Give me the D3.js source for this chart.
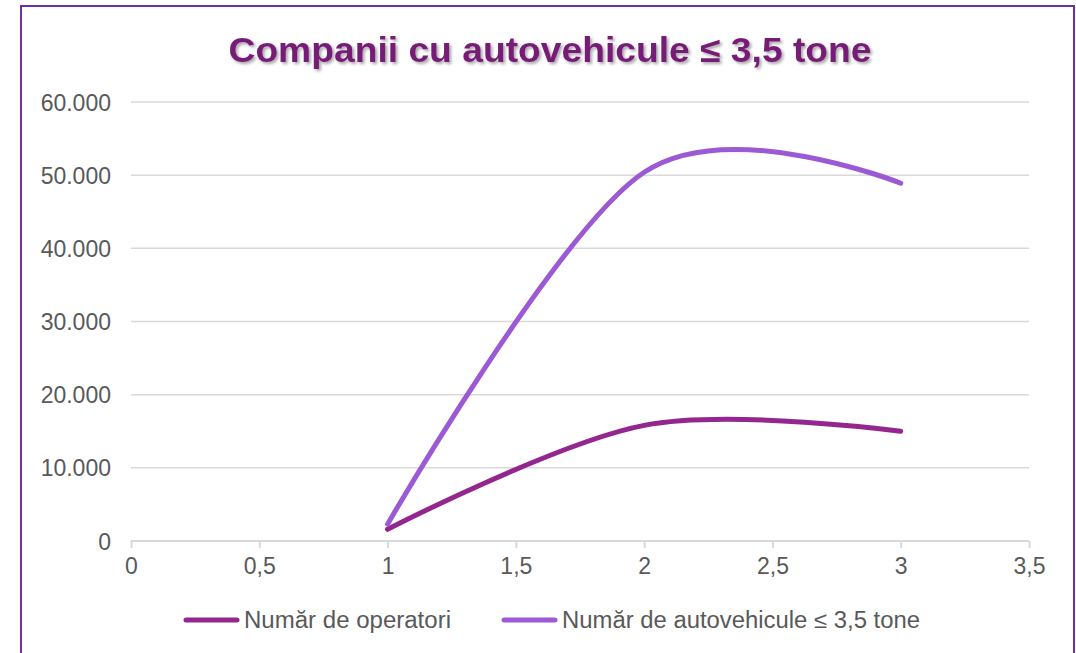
<!DOCTYPE html>
<html>
<head>
<meta charset="utf-8">
<script src="https://cdn.jsdelivr.net/npm/d3@7"></script>
<style>
  body { margin: 0; background: #fff; }
  svg { display: block; font-family: "Liberation Sans", Arial, sans-serif; }
</style>
</head>
<body>
<svg id="chart" width="1076" height="653"></svg>
<script>
var title = 'Companii cu autovehicule ≤ 3,5 tone';
var xValues = [1, 2, 3];
var operatori = [1600, 15800, 15000];
var autovehicule = [2300, 50400, 48900];
var seriesNames = ['Număr de operatori', 'Număr de autovehicule ≤ 3,5 tone'];
var seriesColors = ['#93278f', '#9b59d6'];
var xTicks = [0, 0.5, 1, 1.5, 2, 2.5, 3, 3.5];
var yTicks = [0, 10000, 20000, 30000, 40000, 50000, 60000];

var svg = d3.select('#chart');

// frame
svg.append('rect')
    .attr('x', 21).attr('y', 6)
    .attr('width', 1053).attr('height', 700)
    .attr('fill', 'none')
    .attr('stroke', '#7030a0')
    .attr('stroke-width', 2);

var defs = svg.append('defs');
var shadow = defs.append('filter').attr('id', 'shadow')
    .attr('x', '-10%').attr('y', '-30%').attr('width', '120%').attr('height', '160%');
shadow.append('feDropShadow')
    .attr('dx', 2).attr('dy', 2).attr('stdDeviation', 1.5)
    .attr('flood-color', '#000').attr('flood-opacity', 0.35);

svg.append('text')
    .attr('x', 550).attr('y', 62)
    .attr('text-anchor', 'middle')
    .attr('font-size', 35)
    .attr('font-weight', 'bold')
    .attr('fill', '#761d76')
    .attr('filter', 'url(#shadow)')
    .attr('textLength', 643)
    .attr('lengthAdjust', 'spacingAndGlyphs')
    .text(title);

var x = d3.scaleLinear().domain([0, 3.5]).range([131, 1029]);
var y = d3.scaleLinear().domain([0, 60000]).range([541, 102]);

var fmt = function(d) {
    return d3.format(',')(d).replace(/,/g, '.');
};

// grid
svg.append('g')
    .selectAll('line')
    .data(yTicks.filter(function(d) { return d > 0; }))
    .enter().append('line')
    .attr('x1', x(0)).attr('x2', x(3.5))
    .attr('y1', function(d) { return y(d); })
    .attr('y2', function(d) { return y(d); })
    .attr('stroke', '#d9d9d9')
    .attr('stroke-width', 1.5);

var yAxis = svg.append('g')
    .attr('transform', 'translate(' + 111 + ',0)')
    .call(d3.axisLeft(y).tickValues(yTicks).tickFormat(fmt).tickSize(0).tickPadding(0));
yAxis.select('.domain').remove();
yAxis.selectAll('text')
    .attr('fill', '#595959')
    .attr('font-size', 23)
    .attr('dy', '0.35em')
    .style('font-family', '"Liberation Sans", Arial, sans-serif');

var xAxis = svg.append('g')
    .attr('transform', 'translate(0,' + y(0) + ')')
    .call(d3.axisBottom(x).tickValues(xTicks)
        .tickFormat(function(d) { return String(d).replace('.', ','); })
        .tickSize(7).tickPadding(10));
xAxis.select('.domain').attr('stroke', '#d9d9d9').attr('stroke-width', 2)
    .attr('d', 'M' + x(0) + ',0H' + x(3.5));
xAxis.selectAll('.tick line').attr('stroke', '#d9d9d9').attr('stroke-width', 2);
xAxis.selectAll('text')
    .attr('fill', '#595959')
    .attr('font-size', 23)
    .style('font-family', '"Liberation Sans", Arial, sans-serif');

var line = d3.line()
    .x(function(d) { return x(d[0]); })
    .y(function(d) { return y(d[1]); })
    .curve(d3.curveCardinal.tension(0));

[operatori, autovehicule].forEach(function(vals, i) {
    svg.append('path')
        .datum(xValues.map(function(v, j) { return [v, vals[j]]; }))
        .attr('d', line)
        .attr('fill', 'none')
        .attr('stroke', seriesColors[i])
        .attr('stroke-width', 5)
        .attr('stroke-linecap', 'round');
});

// legend
var legendX = [186, 504];
var legendW = [207, 358];
var legend = svg.append('g');
seriesNames.forEach(function(name, i) {
    legend.append('line')
        .attr('x1', legendX[i]).attr('x2', legendX[i] + 51)
        .attr('y1', 620).attr('y2', 620)
        .attr('stroke', seriesColors[i])
        .attr('stroke-width', 5)
        .attr('stroke-linecap', 'round');
    legend.append('text')
        .attr('x', legendX[i] + 58).attr('y', 628)
        .attr('fill', '#595959')
        .attr('font-size', 23)
        .attr('textLength', legendW[i])
        .attr('lengthAdjust', 'spacingAndGlyphs')
        .text(name);
});
</script>
</body>
</html>
